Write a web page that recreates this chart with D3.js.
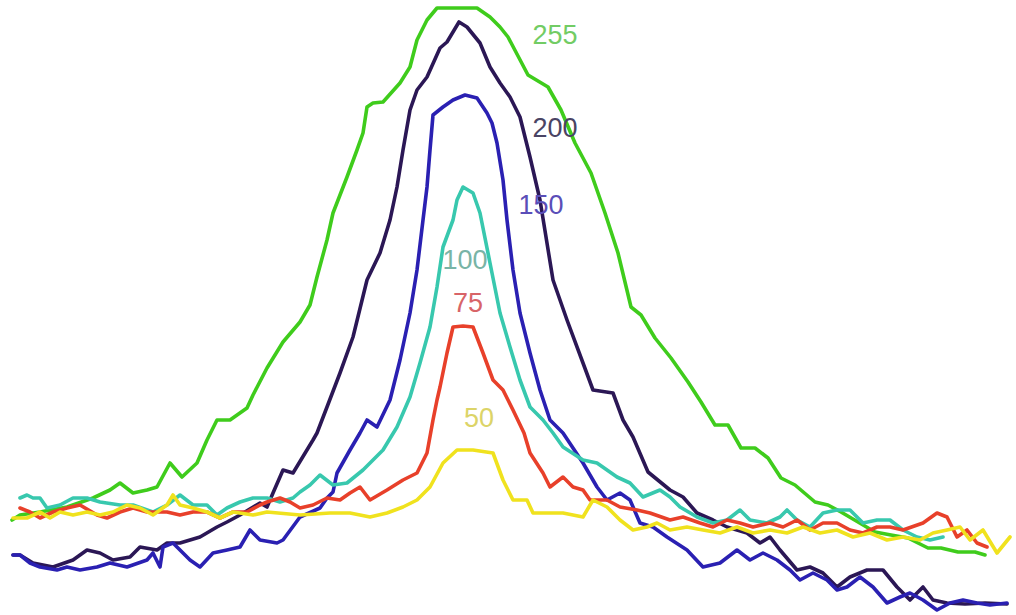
<!DOCTYPE html>
<html>
<head>
<meta charset="utf-8">
<script src="https://cdn.jsdelivr.net/npm/d3@7"></script>
<style>
  html, body { margin: 0; padding: 0; background: #fff; }
  svg { display: block; }
</style>
</head>
<body>
<svg id="chart"></svg>
<script>
// intensity profiles, [position, level]
const s255 = [[12,95],[20,100],[40,103],[67,108],[93,117],[110,125],[120,132],[133,122],[147,125],[157,128],[170,152],[182,138],[197,152],[207,175],[217,195],[230,195],[247,207],[253,220],[267,247],[283,273],[300,293],[310,310],[317,338],[327,375],[333,402],[347,438],[357,465],[363,482],[367,508],[373,512],[383,513],[400,532],[410,548],[417,575],[427,595],[437,607],[457,607],[477,607],[490,598],[500,588],[508,578],[528,540],[548,528],[561,505],[575,472],[591,442],[605,402],[618,362],[631,308],[641,300],[655,277],[671,257],[688,233],[701,213],[715,190],[728,190],[741,167],[755,167],[768,157],[781,137],[795,130],[815,113],[828,110],[841,103],[858,93],[875,83],[891,80],[908,77],[928,67],[941,67],[958,63],[975,63],[985,60]];
const s200 = [[13,60],[20,60],[33,52],[53,48],[73,55],[87,65],[100,62],[113,55],[130,58],[140,68],[157,65],[167,72],[180,72],[200,78],[217,88],[227,93],[240,100],[260,112],[267,108],[273,122],[283,145],[293,142],[313,175],[317,182],[327,208],[340,242],[353,278],[367,335],[380,362],[390,395],[397,428],[403,465],[410,505],[417,525],[427,538],[440,567],[447,573],[459,593],[467,588],[480,572],[490,548],[500,532],[510,518],[520,498],[530,458],[540,415],[553,335],[567,295],[583,252],[593,225],[613,222],[623,195],[633,178],[648,143],[670,125],[683,118],[697,102],[713,95],[727,88],[747,82],[760,72],[770,78],[780,65],[797,45],[810,48],[823,42],[837,28],[850,38],[867,45],[883,45],[897,28],[910,15],[923,28],[933,15],[947,12],[965,11],[985,12],[1007,11]];
const s150 = [[13,60],[20,60],[30,52],[40,48],[57,45],[67,48],[80,45],[97,48],[110,52],[127,48],[147,55],[153,62],[160,48],[163,68],[173,72],[180,65],[190,55],[200,48],[213,62],[227,65],[240,68],[250,85],[260,75],[277,72],[283,75],[300,98],[320,107],[327,117],[333,123],[337,142],[350,165],[360,182],[367,195],[377,188],[390,215],[400,255],[410,302],[417,345],[423,395],[427,428],[430,465],[433,500],[443,508],[453,515],[465,520],[477,517],[487,502],[492,492],[497,472],[503,435],[507,395],[513,345],[520,302],[530,262],[540,225],[550,195],[563,182],[583,152],[597,128],[607,115],[620,122],[630,115],[640,92],[653,88],[667,78],[687,65],[703,48],[720,52],[737,65],[750,55],[763,62],[777,55],[790,45],[800,35],[813,42],[827,35],[837,25],[847,28],[860,38],[873,28],[887,12],[900,18],[910,22],[923,15],[937,5],[950,12],[963,15],[977,12],[990,10],[1007,12]];
const s100 = [[20,117],[27,120],[33,117],[40,117],[47,107],[60,110],[73,117],[87,117],[100,113],[120,110],[133,110],[153,103],[167,110],[180,120],[193,110],[207,110],[217,100],[227,107],[240,113],[253,117],[267,117],[280,113],[293,117],[300,123],[310,130],[320,140],[333,130],[347,132],[363,145],[383,165],[397,188],[410,218],[420,252],[430,288],[437,328],[443,368],[453,395],[457,415],[463,428],[473,422],[480,402],[490,352],[500,302],[510,268],[520,235],[530,208],[543,195],[553,182],[563,168],[583,155],[597,152],[617,138],[630,132],[643,118],[660,125],[670,118],[680,108],[697,98],[713,92],[727,95],[740,105],[750,95],[767,92],[780,98],[787,105],[797,95],[810,88],[823,102],[837,105],[850,105],[863,92],[877,95],[890,95],[903,85],[917,78],[930,75],[943,78]];
const s75 = [[20,107],[30,103],[40,97],[53,103],[67,107],[80,110],[97,100],[107,97],[120,103],[133,107],[147,103],[167,103],[180,100],[193,103],[207,103],[220,97],[233,103],[247,103],[260,110],[267,113],[280,117],[290,113],[300,107],[313,110],[327,117],[340,115],[350,122],[360,128],[370,115],[387,125],[403,135],[417,142],[427,162],[433,195],[437,215],[440,228],[447,262],[453,288],[463,289],[473,288],[483,262],[493,235],[503,225],[513,205],[524,182],[530,162],[543,142],[550,128],[563,138],[573,128],[583,125],[590,115],[607,115],[620,108],[637,105],[650,102],[670,95],[683,98],[700,92],[713,88],[727,95],[740,92],[753,88],[770,92],[783,88],[797,95],[810,85],[823,92],[837,92],[850,85],[863,82],[877,88],[890,88],[903,85],[923,92],[937,102],[947,98],[957,78],[967,85],[977,72],[987,68]];
const s50 = [[13,97],[27,97],[40,103],[50,97],[60,103],[73,100],[87,103],[100,100],[113,103],[127,110],[140,107],[153,100],[167,110],[173,120],[180,110],[193,107],[207,103],[220,97],[233,103],[253,100],[267,103],[300,100],[330,102],[350,102],[370,98],[387,102],[403,108],[417,115],[430,128],[443,152],[457,165],[473,165],[493,162],[503,135],[513,115],[527,115],[533,102],[547,102],[563,102],[583,98],[593,115],[607,108],[620,95],[633,85],[647,88],[657,92],[670,85],[687,88],[703,85],[720,82],[737,88],[753,82],[770,85],[787,82],[803,88],[820,82],[837,85],[853,78],[870,82],[887,75],[903,78],[920,75],[933,82],[947,85],[960,88],[970,75],[983,85],[997,62],[1010,78]];

const seriesNames = ["255", "200", "150", "100", "75", "50"];
const seriesData = [s255, s200, s150, s100, s75, s50];

const lineColors = ["#3fcc1c", "#2b1755", "#2a20b2", "#38c8ae", "#e8402a", "#f0e21e"];
const labelColors = ["#72cc64", "#4a4464", "#5a4eb8", "#78b4a6", "#d86468", "#dcd468"];
// label anchor (x, level) next to each curve
const labelAt = [[555, 580], [555, 487], [541, 410], [465, 355], [468, 312], [479, 197]];

const width = 1016, height = 615;

const svg = d3.select("#chart")
  .attr("width", width)
  .attr("height", height);

const x = d3.scaleLinear().domain([0, 1016]).range([0, width]);
const y = d3.scaleLinear().domain([0, 615]).range([height, 0]);

const line = d3.line()
  .x(d => x(d[0]))
  .y(d => y(d[1]));

svg.selectAll("path.profile")
  .data(seriesData)
  .enter()
  .append("path")
  .attr("class", "profile")
  .attr("d", line)
  .attr("fill", "none")
  .attr("stroke", (d, i) => lineColors[i])
  .attr("stroke-width", 3.6)
  .attr("stroke-linejoin", "round")
  .attr("stroke-linecap", "round");

svg.selectAll("text.lbl")
  .data(seriesNames)
  .enter()
  .append("text")
  .attr("class", "lbl")
  .attr("x", (d, i) => x(labelAt[i][0]))
  .attr("y", (d, i) => y(labelAt[i][1]))
  .attr("text-anchor", "middle")
  .attr("dominant-baseline", "central")
  .attr("font-family", "Liberation Sans, Arial, sans-serif")
  .attr("font-size", 27)
  .attr("fill", (d, i) => labelColors[i])
  .text(d => d);
</script>
</body>
</html>
